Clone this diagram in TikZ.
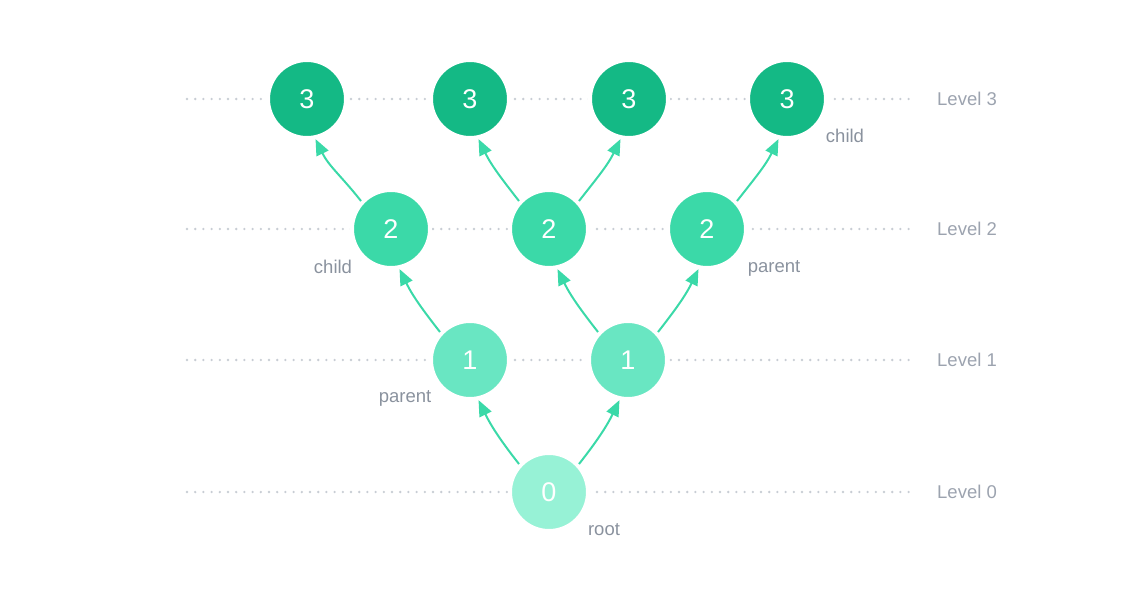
\documentclass[tikz,border=0pt]{standalone}
\usepackage{fontspec}
\setmainfont{Liberation Sans}
\usetikzlibrary{arrows.meta}
\definecolor{cthree}{HTML}{14B985}
\definecolor{ctwo}{HTML}{3BD9A8}
\definecolor{cone}{HTML}{69E6C2}
\definecolor{czero}{HTML}{97F2D6}
\definecolor{edgecol}{HTML}{3AD9A8}
\definecolor{dotcol}{HTML}{C8CDD4}
\definecolor{lvlcol}{HTML}{9CA3AF}
\definecolor{lblcol}{HTML}{8A929E}
\tikzset{
  vtx/.style={circle, minimum size=78pt, inner sep=0pt, draw=white, line width=4pt,
    text=white, font=\fontsize{27}{27}\selectfont},
  lvthree/.style={vtx, fill=cthree},
  lvtwo/.style={vtx, fill=ctwo},
  lvone/.style={vtx, fill=cone},
  lvzero/.style={vtx, fill=czero},
  guide/.style={dotcol, line width=2.6pt, line cap=round, dash pattern=on 0pt off 8.2pt},
  lvltext/.style={anchor=west, text=lvlcol, font=\fontsize{18.5}{18.5}\selectfont, inner sep=0pt},
  role/.style={text=lblcol, font=\fontsize{18.5}{18.5}\selectfont, inner sep=0pt},
  edgel/.style={draw=edgecol, line width=2pt, -{Triangle[length=16pt,width=13pt]}},
}
\begin{document}
\begin{tikzpicture}[x=1pt,y=-1pt]
\useasboundingbox (0,0) rectangle (1141,599);
% guide lines
\coordinate (g3a) at (187,99);  \coordinate (g3b) at (913,99);
\coordinate (g2a) at (187,229); \coordinate (g2b) at (913,229);
\coordinate (g1a) at (187,360); \coordinate (g1b) at (913,360);
\coordinate (g0a) at (187,492); \coordinate (g0b) at (913,492);
\draw[guide] (g3a) -- (g3b);
\draw[guide] (g2a) -- (g2b);
\draw[guide] (g1a) -- (g1b);
\draw[guide] (g0a) -- (g0b);
% level labels
\node[lvltext] (l3) at (937,99) {Level 3};
\node[lvltext] (l2) at (937,229) {Level 2};
\node[lvltext] (l1) at (937,360) {Level 1};
\node[lvltext] (l0) at (937,492) {Level 0};
% nodes
\node[lvthree] (a3) at (307,99) {3};
\node[lvthree] (b3) at (470,99) {3};
\node[lvthree] (c3) at (629,99) {3};
\node[lvthree] (d3) at (787,99) {3};
\node[lvtwo] (a2) at (391,229) {2};
\node[lvtwo] (b2) at (549,229) {2};
\node[lvtwo] (c2) at (707,229) {2};
\node[lvone] (a1) at (470,360) {1};
\node[lvone] (b1) at (628,360) {1};
\node[lvzero] (r0) at (549,492) {0};
% edges
\draw[edgel] (r0.137) to[out=128,in=-64] (a1.-78);
\draw[edgel] (r0.43) to[out=52,in=-116] (b1.-102);
\draw[edgel] (a1.137) to[out=128,in=-64] (a2.-78);
\draw[edgel] (b1.137) to[out=128,in=-64] (b2.-78);
\draw[edgel] (b1.43) to[out=52,in=-116] (c2.-102);
\draw[edgel] (a2.137) to[out=128,in=-64] (a3.-78);
\draw[edgel] (b2.137) to[out=128,in=-64] (b3.-78);
\draw[edgel] (b2.43) to[out=52,in=-116] (c3.-102);
\draw[edgel] (c2.43) to[out=52,in=-116] (d3.-102);
% role labels
\node[role] (t1) at (845,136) {child};
\node[role] (t2) at (333,267) {child};
\node[role] (t3) at (405,398) {parent};
\node[role] (t4) at (774,268) {parent};
\node[role] (t5) at (604,530) {root};
\end{tikzpicture}
\end{document}
